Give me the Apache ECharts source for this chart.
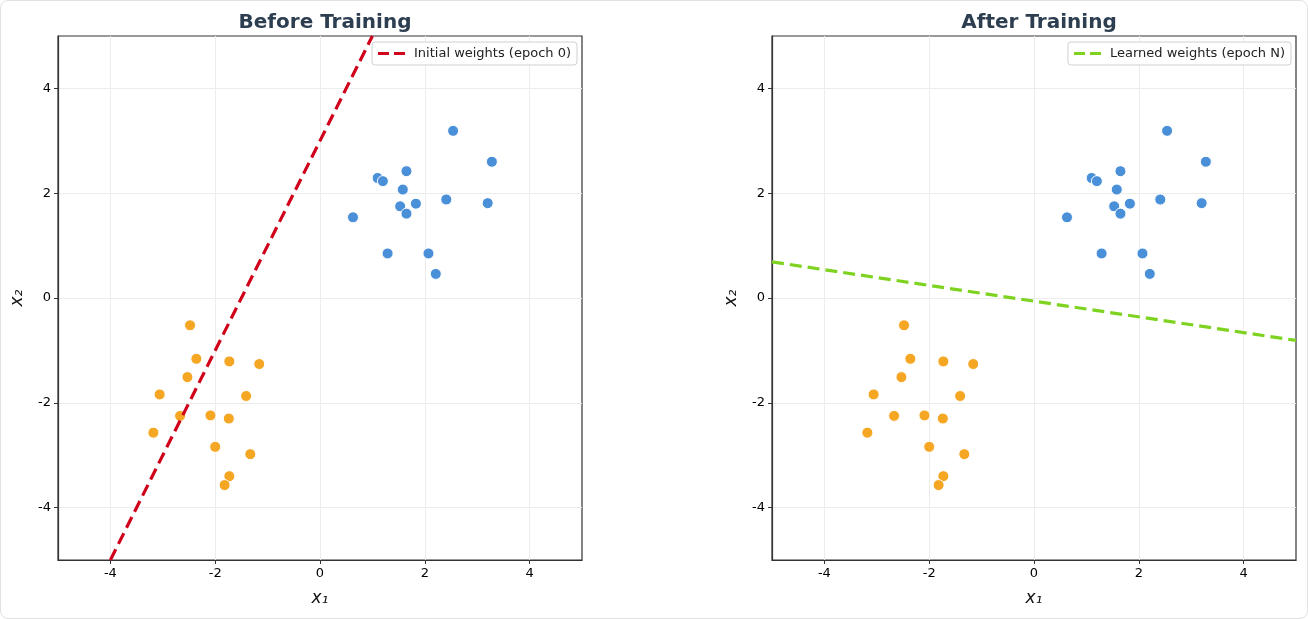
<!DOCTYPE html>
<html>
<head>
<meta charset="utf-8">
<script src="https://cdn.jsdelivr.net/npm/echarts@6/dist/echarts.min.js"></script>
<style>
  html, body { margin: 0; padding: 0; background: #fff; }
  #wrap { position: absolute; left: 0; top: 0; width: 1306px; height: 617px;
          border: 1px solid #e2e2e2; border-radius: 8px; }
  #chart { width: 1308px; height: 619px; position: absolute; left: 0; top: 0; }
</style>
</head>
<body>
<div id="wrap"></div>
<div id="chart"></div>
<script>
  // class 1 (blue) and class 0 (orange) points
  var classBlue = [
    [2.54, 3.19], [3.28, 2.60], [1.65, 2.42], [1.10, 2.29], [1.20, 2.23],
    [1.58, 2.07], [1.83, 1.80], [1.53, 1.75], [1.65, 1.61], [2.41, 1.88],
    [3.20, 1.81], [0.63, 1.54], [1.29, 0.85], [2.07, 0.85], [2.21, 0.46]
  ];
  var classOrange = [
    [-2.48, -0.52], [-2.36, -1.16], [-1.73, -1.21], [-1.16, -1.26], [-2.53, -1.51],
    [-3.06, -1.84], [-1.41, -1.87], [-2.67, -2.25], [-2.09, -2.24], [-1.74, -2.30],
    [-3.18, -2.57], [-2.00, -2.84], [-1.33, -2.98], [-1.73, -3.40], [-1.82, -3.57]
  ];
  // decision boundary end points
  var initialBoundary = [[-4.0, -5.0], [1.0, 5.0]];
  var learnedBoundary = [[-5.0, 0.69], [5.0, -0.81]];

  var titles = ['Before Training', 'After Training'];
  var lineNames = ['Initial weights (epoch 0)', 'Learned weights (epoch N)'];
  var lineColors = ['#d0021b', '#7ed321'];
  var boundaries = [initialBoundary, learnedBoundary];
  var tickValues = [-4, -2, 0, 2, 4];

  var font = 'DejaVu Sans';
  var gridLefts = [58, 772];
  // dashed legend sample: dash, gap, dash
  var dashIcon = 'path://M0,0h11v3h-11z M16,0h11v3h-11z';

  var myChart = echarts.init(document.getElementById('chart'));

  function makeAxis(i, isX) {
    return {
      type: 'value',
      gridIndex: i,
      min: -5, max: 5, interval: 2,
      name: isX ? 'x\u2081' : 'x\u2082',
      nameLocation: 'middle',
      nameGap: isX ? 30 : 32,
      nameRotate: isX ? 0 : 90,
      nameTextStyle: { fontFamily: font, fontSize: 17, fontStyle: 'italic', color: '#111' },
      axisLine: { show: true, onZero: false, lineStyle: { color: '#333', width: 1.2 } },
      axisTick: { show: true, length: 4, lineStyle: { color: '#333' },
                  customValues: tickValues },
      axisLabel: {
        fontFamily: font, fontSize: 13, color: '#000', margin: 7,
        customValues: tickValues,
        formatter: function (v) { return String(v); }
      },
      splitLine: { show: true, lineStyle: { color: '#ececec', width: 1 } }
    };
  }

  var option = {
    animation: false,
    title: [],
    legend: [],
    grid: [],
    xAxis: [],
    yAxis: [],
    series: []
  };

  for (var i = 0; i < 2; i++) {
    option.title.push({
      text: titles[i],
      left: gridLefts[i] + 262, top: 8,
      textAlign: 'center',
      textStyle: { fontFamily: font, fontSize: 20, fontWeight: 'bold', color: '#2c3e50' }
    });
    option.grid.push({
      left: gridLefts[i], top: 36, width: 524, height: 524,
      show: true, borderColor: '#333', borderWidth: 1.2, backgroundColor: 'transparent'
    });
    option.xAxis.push(makeAxis(i, true));
    option.yAxis.push(makeAxis(i, false));
    option.legend.push({
      data: [{ name: lineNames[i], icon: dashIcon }],
      right: 1308 - (gridLefts[i] + 524) + 5,
      top: 42,
      backgroundColor: '#fff',
      borderColor: '#d0d0d0', borderWidth: 1, borderRadius: 3,
      padding: [5, 6, 5, 6],
      itemWidth: 27, itemHeight: 3, itemGap: 5,
      itemStyle: { color: lineColors[i], borderWidth: 0 },
      textStyle: { fontFamily: font, fontSize: 13, color: '#222', padding: [0, 0, 0, 4] }
    });
    option.series.push({
      type: 'scatter', name: 'blue' + i,
      xAxisIndex: i, yAxisIndex: i,
      data: classBlue,
      symbolSize: 11,
      itemStyle: { color: '#4a90d9', borderColor: '#fff', borderWidth: 1, opacity: 1 },
      z: 3
    });
    option.series.push({
      type: 'scatter', name: 'orange' + i,
      xAxisIndex: i, yAxisIndex: i,
      data: classOrange,
      symbolSize: 11,
      itemStyle: { color: '#f5a623', borderColor: '#fff', borderWidth: 1, opacity: 1 },
      z: 3
    });
    option.series.push({
      type: 'line', name: lineNames[i],
      xAxisIndex: i, yAxisIndex: i,
      data: boundaries[i],
      symbol: 'none',
      clip: true,
      color: lineColors[i],
      lineStyle: { color: lineColors[i], width: 3.2, type: [12, 6] },
      z: 4
    });
  }

  myChart.setOption(option);
</script>
</body>
</html>
